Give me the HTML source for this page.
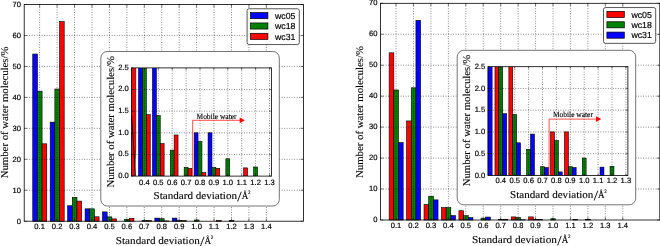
<!DOCTYPE html>
<html><head><meta charset="utf-8"><title>Water mobility histograms</title>
<style>html,body{margin:0;padding:0;background:#fff}svg{display:block}text{text-rendering:geometricPrecision}</style></head>
<body>
<svg width="660" height="246" viewBox="0 0 660 246">
<rect width="660" height="246" fill="#fff"/>
<g opacity="0.999">
<g transform="translate(0 0)">
<rect x="24.2" y="4.5" width="279.2" height="216.7" fill="#fff"/>
<g stroke="#000" stroke-width="0.6">
<rect x="32.75" y="54.03" width="4.67" height="167.17" fill="#0000ff"/>
<rect x="37.42" y="91.18" width="4.67" height="130.02" fill="#008000"/>
<rect x="42.09" y="143.81" width="4.67" height="77.39" fill="#ff0000"/>
<rect x="50.19" y="122.14" width="4.67" height="99.06" fill="#0000ff"/>
<rect x="54.86" y="89.01" width="4.67" height="132.19" fill="#008000"/>
<rect x="59.53" y="21.53" width="4.67" height="199.67" fill="#ff0000"/>
<rect x="67.63" y="205.72" width="4.67" height="15.48" fill="#0000ff"/>
<rect x="72.3" y="197.36" width="4.67" height="23.84" fill="#008000"/>
<rect x="76.97" y="201.08" width="4.67" height="20.12" fill="#ff0000"/>
<rect x="85.07" y="208.82" width="4.67" height="12.38" fill="#0000ff"/>
<rect x="89.74" y="208.82" width="4.67" height="12.38" fill="#008000"/>
<rect x="94.41" y="216.8" width="4.67" height="4.4" fill="#ff0000"/>
<rect x="102.51" y="211.91" width="4.67" height="9.29" fill="#0000ff"/>
<rect x="107.18" y="216.87" width="4.67" height="4.33" fill="#008000"/>
<rect x="111.85" y="218.88" width="4.67" height="2.32" fill="#ff0000"/>
<rect x="124.62" y="219.34" width="4.67" height="1.86" fill="#008000"/>
<rect x="129.29" y="218.26" width="4.67" height="2.94" fill="#ff0000"/>
<rect x="142.06" y="220.58" width="4.67" height="0.62" fill="#008000"/>
<rect x="146.73" y="220.64" width="4.67" height="0.56" fill="#ff0000"/>
<rect x="154.83" y="218.1" width="4.67" height="3.1" fill="#0000ff"/>
<rect x="159.5" y="218.72" width="4.67" height="2.48" fill="#008000"/>
<rect x="164.17" y="220.95" width="4.67" height="0.25" fill="#ff0000"/>
<rect x="172.27" y="218.1" width="4.67" height="3.1" fill="#0000ff"/>
<rect x="176.94" y="220.58" width="4.67" height="0.62" fill="#008000"/>
<rect x="181.61" y="220.64" width="4.67" height="0.56" fill="#ff0000"/>
<rect x="194.38" y="219.96" width="4.67" height="1.24" fill="#008000"/>
<rect x="216.49" y="220.61" width="4.67" height="0.59" fill="#ff0000"/>
<rect x="229.26" y="220.55" width="4.67" height="0.65" fill="#008000"/>
</g>
<g stroke="#000" stroke-width="0.5" stroke-dasharray="0.9 1.6" fill="none">
<path d="M39.65 4.5V221.2"/>
<path d="M57.09 4.5V221.2"/>
<path d="M74.53 4.5V221.2"/>
<path d="M91.97 4.5V221.2"/>
<path d="M109.41 4.5V221.2"/>
<path d="M126.85 4.5V221.2"/>
<path d="M144.29 4.5V221.2"/>
<path d="M161.73 4.5V221.2"/>
<path d="M179.17 4.5V221.2"/>
<path d="M196.61 4.5V221.2"/>
<path d="M214.05 4.5V221.2"/>
<path d="M231.49 4.5V221.2"/>
<path d="M248.93 4.5V221.2"/>
<path d="M266.37 4.5V221.2"/>
<path d="M24.2 190.24H303.4"/>
<path d="M24.2 159.29H303.4"/>
<path d="M24.2 128.33H303.4"/>
<path d="M24.2 97.37H303.4"/>
<path d="M24.2 66.41H303.4"/>
<path d="M24.2 35.46H303.4"/>
</g>
<g stroke="#000" stroke-width="0.5" fill="none">
<path d="M39.65 221.2v-2.8M39.65 4.5v2.8"/>
<path d="M57.09 221.2v-2.8M57.09 4.5v2.8"/>
<path d="M74.53 221.2v-2.8M74.53 4.5v2.8"/>
<path d="M91.97 221.2v-2.8M91.97 4.5v2.8"/>
<path d="M109.41 221.2v-2.8M109.41 4.5v2.8"/>
<path d="M126.85 221.2v-2.8M126.85 4.5v2.8"/>
<path d="M144.29 221.2v-2.8M144.29 4.5v2.8"/>
<path d="M161.73 221.2v-2.8M161.73 4.5v2.8"/>
<path d="M179.17 221.2v-2.8M179.17 4.5v2.8"/>
<path d="M196.61 221.2v-2.8M196.61 4.5v2.8"/>
<path d="M214.05 221.2v-2.8M214.05 4.5v2.8"/>
<path d="M231.49 221.2v-2.8M231.49 4.5v2.8"/>
<path d="M248.93 221.2v-2.8M248.93 4.5v2.8"/>
<path d="M266.37 221.2v-2.8M266.37 4.5v2.8"/>
<path d="M24.2 221.2h2.8M303.4 221.2h-2.8"/>
<path d="M24.2 190.24h2.8M303.4 190.24h-2.8"/>
<path d="M24.2 159.29h2.8M303.4 159.29h-2.8"/>
<path d="M24.2 128.33h2.8M303.4 128.33h-2.8"/>
<path d="M24.2 97.37h2.8M303.4 97.37h-2.8"/>
<path d="M24.2 66.41h2.8M303.4 66.41h-2.8"/>
<path d="M24.2 35.46h2.8M303.4 35.46h-2.8"/>
<path d="M24.2 4.5h2.8M303.4 4.5h-2.8"/>
</g>
<rect x="24.2" y="4.5" width="279.2" height="216.7" fill="none" stroke="#000" stroke-width="0.8"/>
<g font-family='"Liberation Sans", sans-serif' font-size="7.6" fill="#000" stroke="#000" stroke-width="0.18">
<text x="39.65" y="229.3" text-anchor="middle">0.1</text>
<text x="57.09" y="229.3" text-anchor="middle">0.2</text>
<text x="74.53" y="229.3" text-anchor="middle">0.3</text>
<text x="91.97" y="229.3" text-anchor="middle">0.4</text>
<text x="109.41" y="229.3" text-anchor="middle">0.5</text>
<text x="126.85" y="229.3" text-anchor="middle">0.6</text>
<text x="144.29" y="229.3" text-anchor="middle">0.7</text>
<text x="161.73" y="229.3" text-anchor="middle">0.8</text>
<text x="179.17" y="229.3" text-anchor="middle">0.9</text>
<text x="196.61" y="229.3" text-anchor="middle">1.0</text>
<text x="214.05" y="229.3" text-anchor="middle">1.1</text>
<text x="231.49" y="229.3" text-anchor="middle">1.2</text>
<text x="248.93" y="229.3" text-anchor="middle">1.3</text>
<text x="266.37" y="229.3" text-anchor="middle">1.4</text>
<text x="21" y="223.5" text-anchor="end">0</text>
<text x="21" y="192.54" text-anchor="end">10</text>
<text x="21" y="161.59" text-anchor="end">20</text>
<text x="21" y="130.63" text-anchor="end">30</text>
<text x="21" y="99.67" text-anchor="end">40</text>
<text x="21" y="68.71" text-anchor="end">50</text>
<text x="21" y="37.76" text-anchor="end">60</text>
<text x="21" y="6.8" text-anchor="end">70</text>
</g>
<g font-family='"Liberation Serif", serif' font-size="10.4" fill="#000" stroke="#000" stroke-width="0.12">
<text x="115.8" y="243.6" textLength="84" lengthAdjust="spacingAndGlyphs">Standard deviation</text><text x="200.1" y="245.7" font-size="14" stroke-width="0.1" textLength="4.4" lengthAdjust="spacingAndGlyphs">/</text><text x="204.5" y="243.6" textLength="6.5" lengthAdjust="spacingAndGlyphs">Å</text><text x="210.7" y="238.9" font-size="5" stroke-width="0.15">2</text>
<text transform="translate(8.2 178.3) rotate(-90)" textLength="131.8" lengthAdjust="spacingAndGlyphs">Number of water molecules/%</text>
</g>
<rect x="247.1" y="8.75" width="52.2" height="35.8" rx="2" fill="#fff" stroke="#444" stroke-width="0.9"/>
<g stroke="#000" stroke-width="0.7">
<rect x="250.5" y="12.6" width="17.4" height="6.1" fill="#0000ff"/>
<rect x="250.5" y="22.95" width="17.4" height="6.1" fill="#008000"/>
<rect x="250.5" y="33.3" width="17.4" height="6.1" fill="#ff0000"/>
</g>
<g font-family='"Liberation Sans", sans-serif' font-size="8.75" fill="#000" stroke="#000" stroke-width="0.18">
<text x="275" y="18.9">wc05</text>
<text x="275" y="29.25">wc18</text>
<text x="275" y="39.6">wc31</text>
</g>
<rect x="100.8" y="51.5" width="178.5" height="154.5" rx="6.5" fill="#fff" stroke="#505050" stroke-width="0.8"/>
<clipPath id="ca"><rect x="131.5" y="67.9" width="140" height="108.2"/></clipPath>
<g clip-path="url(#ca)">
<g stroke="#000" stroke-width="0.6">
<rect x="96.86" y="-2161.02" width="3.89" height="2337.12" fill="#0000ff"/>
<rect x="100.75" y="-1641.66" width="3.89" height="1817.76" fill="#008000"/>
<rect x="104.65" y="-905.9" width="3.89" height="1082" fill="#ff0000"/>
<rect x="110.76" y="-1208.86" width="3.89" height="1384.96" fill="#0000ff"/>
<rect x="114.65" y="-1671.96" width="3.89" height="1848.06" fill="#008000"/>
<rect x="118.55" y="-2615.46" width="3.89" height="2791.56" fill="#ff0000"/>
<path d="M131.5 66.9H135.7V150L134.6 176.1H131.5z" fill="#ff0000"/>
<path d="M131.6 116L135.6 176.1" fill="none" stroke-width="0.8"/>
<rect x="138.56" y="2.98" width="3.89" height="173.12" fill="#0000ff"/>
<rect x="142.45" y="2.98" width="3.89" height="173.12" fill="#008000"/>
<rect x="146.35" y="114.64" width="3.89" height="61.46" fill="#ff0000"/>
<rect x="152.46" y="46.26" width="3.89" height="129.84" fill="#0000ff"/>
<rect x="156.35" y="115.51" width="3.89" height="60.59" fill="#008000"/>
<rect x="160.25" y="143.64" width="3.89" height="32.46" fill="#ff0000"/>
<rect x="170.25" y="150.13" width="3.89" height="25.97" fill="#008000"/>
<rect x="174.15" y="134.98" width="3.89" height="41.12" fill="#ff0000"/>
<rect x="184.15" y="167.44" width="3.89" height="8.66" fill="#008000"/>
<rect x="188.05" y="168.31" width="3.89" height="7.79" fill="#ff0000"/>
<rect x="194.16" y="132.82" width="3.89" height="43.28" fill="#0000ff"/>
<rect x="198.05" y="141.48" width="3.89" height="34.62" fill="#008000"/>
<rect x="201.95" y="172.64" width="3.89" height="3.46" fill="#ff0000"/>
<rect x="208.06" y="132.82" width="3.89" height="43.28" fill="#0000ff"/>
<rect x="211.95" y="167.44" width="3.89" height="8.66" fill="#008000"/>
<rect x="215.85" y="168.31" width="3.89" height="7.79" fill="#ff0000"/>
<rect x="225.85" y="158.79" width="3.89" height="17.31" fill="#008000"/>
<rect x="243.65" y="167.88" width="3.89" height="8.22" fill="#ff0000"/>
<rect x="253.65" y="167.01" width="3.89" height="9.09" fill="#008000"/>
</g>
</g>
<g stroke="#000" stroke-width="0.5" stroke-dasharray="0.9 1.6" fill="none">
<path d="M144.4 67.9V176.1"/>
<path d="M158.3 67.9V176.1"/>
<path d="M172.2 67.9V176.1"/>
<path d="M186.1 67.9V176.1"/>
<path d="M200 67.9V176.1"/>
<path d="M213.9 67.9V176.1"/>
<path d="M227.8 67.9V176.1"/>
<path d="M241.7 67.9V176.1"/>
<path d="M255.6 67.9V176.1"/>
<path d="M269.5 67.9V176.1"/>
<path d="M131.5 154.46H271.5"/>
<path d="M131.5 132.82H271.5"/>
<path d="M131.5 111.18H271.5"/>
<path d="M131.5 89.54H271.5"/>
</g>
<g stroke="#000" stroke-width="0.5" fill="none">
<path d="M144.4 176.1v-2M144.4 67.9v2"/>
<path d="M158.3 176.1v-2M158.3 67.9v2"/>
<path d="M172.2 176.1v-2M172.2 67.9v2"/>
<path d="M186.1 176.1v-2M186.1 67.9v2"/>
<path d="M200 176.1v-2M200 67.9v2"/>
<path d="M213.9 176.1v-2M213.9 67.9v2"/>
<path d="M227.8 176.1v-2M227.8 67.9v2"/>
<path d="M241.7 176.1v-2M241.7 67.9v2"/>
<path d="M255.6 176.1v-2M255.6 67.9v2"/>
<path d="M269.5 176.1v-2M269.5 67.9v2"/>
<path d="M131.5 176.1h2M271.5 176.1h-2"/>
<path d="M131.5 154.46h2M271.5 154.46h-2"/>
<path d="M131.5 132.82h2M271.5 132.82h-2"/>
<path d="M131.5 111.18h2M271.5 111.18h-2"/>
<path d="M131.5 89.54h2M271.5 89.54h-2"/>
<path d="M131.5 67.9h2M271.5 67.9h-2"/>
</g>
<rect x="131.5" y="67.9" width="140" height="108.2" fill="none" stroke="#000" stroke-width="0.8"/>
<path d="M192.7 176.1V120.3H241" stroke="#f00" stroke-width="0.7" fill="none"/>
<path d="M244.9 120.3l-5.2 -2.9v5.8z" fill="#f00"/>
<text x="196.5" y="118.9" font-family='"Liberation Serif", serif' font-size="8" stroke="#000" stroke-width="0.12" textLength="40" lengthAdjust="spacingAndGlyphs">Mobile water</text>
<g font-family='"Liberation Sans", sans-serif' font-size="7.6" fill="#000" stroke="#000" stroke-width="0.18">
<text x="144.4" y="184.6" text-anchor="middle">0.4</text>
<text x="158.3" y="184.6" text-anchor="middle">0.5</text>
<text x="172.2" y="184.6" text-anchor="middle">0.6</text>
<text x="186.1" y="184.6" text-anchor="middle">0.7</text>
<text x="200" y="184.6" text-anchor="middle">0.8</text>
<text x="213.9" y="184.6" text-anchor="middle">0.9</text>
<text x="227.8" y="184.6" text-anchor="middle">1.0</text>
<text x="241.7" y="184.6" text-anchor="middle">1.1</text>
<text x="255.6" y="184.6" text-anchor="middle">1.2</text>
<text x="269.5" y="184.6" text-anchor="middle">1.3</text>
<text x="128.8" y="177.9" text-anchor="end">0.0</text>
<text x="128.8" y="156.26" text-anchor="end">0.5</text>
<text x="128.8" y="134.62" text-anchor="end">1.0</text>
<text x="128.8" y="112.98" text-anchor="end">1.5</text>
<text x="128.8" y="91.34" text-anchor="end">2.0</text>
<text x="128.8" y="69.7" text-anchor="end">2.5</text>
</g>
<g font-family='"Liberation Serif", serif' font-size="10.4" fill="#000" stroke="#000" stroke-width="0.12">
<text x="153.6" y="198.8" textLength="83.4" lengthAdjust="spacingAndGlyphs">Standard deviation</text><text x="237.3" y="200.9" font-size="14" stroke-width="0.1" textLength="4.4" lengthAdjust="spacingAndGlyphs">/</text><text x="241.7" y="198.8" textLength="6.5" lengthAdjust="spacingAndGlyphs">Å</text><text x="247.9" y="194.1" font-size="5" stroke-width="0.15">2</text>
<text transform="translate(113.7 187.5) rotate(-90)" textLength="131.5" lengthAdjust="spacingAndGlyphs">Number of water molecules/%</text>
</g>
</g>
<g transform="translate(356.4 -1.2)">
<rect x="24.2" y="4.5" width="279.2" height="216.7" fill="#fff"/>
<g stroke="#000" stroke-width="0.6">
<rect x="32.75" y="54.03" width="4.67" height="167.17" fill="#ff0000"/>
<rect x="37.42" y="91.18" width="4.67" height="130.02" fill="#008000"/>
<rect x="42.09" y="143.81" width="4.67" height="77.39" fill="#0000ff"/>
<rect x="50.19" y="122.14" width="4.67" height="99.06" fill="#ff0000"/>
<rect x="54.86" y="89.01" width="4.67" height="132.19" fill="#008000"/>
<rect x="59.53" y="21.53" width="4.67" height="199.67" fill="#0000ff"/>
<rect x="67.63" y="205.72" width="4.67" height="15.48" fill="#ff0000"/>
<rect x="72.3" y="197.36" width="4.67" height="23.84" fill="#008000"/>
<rect x="76.97" y="201.08" width="4.67" height="20.12" fill="#0000ff"/>
<rect x="85.07" y="208.82" width="4.67" height="12.38" fill="#ff0000"/>
<rect x="89.74" y="208.82" width="4.67" height="12.38" fill="#008000"/>
<rect x="94.41" y="216.8" width="4.67" height="4.4" fill="#0000ff"/>
<rect x="102.51" y="211.91" width="4.67" height="9.29" fill="#ff0000"/>
<rect x="107.18" y="216.87" width="4.67" height="4.33" fill="#008000"/>
<rect x="111.85" y="218.88" width="4.67" height="2.32" fill="#0000ff"/>
<rect x="124.62" y="219.34" width="4.67" height="1.86" fill="#008000"/>
<rect x="129.29" y="218.26" width="4.67" height="2.94" fill="#0000ff"/>
<rect x="142.06" y="220.58" width="4.67" height="0.62" fill="#008000"/>
<rect x="146.73" y="220.64" width="4.67" height="0.56" fill="#0000ff"/>
<rect x="154.83" y="218.1" width="4.67" height="3.1" fill="#ff0000"/>
<rect x="159.5" y="218.72" width="4.67" height="2.48" fill="#008000"/>
<rect x="164.17" y="220.95" width="4.67" height="0.25" fill="#0000ff"/>
<rect x="172.27" y="218.1" width="4.67" height="3.1" fill="#ff0000"/>
<rect x="176.94" y="220.58" width="4.67" height="0.62" fill="#008000"/>
<rect x="181.61" y="220.64" width="4.67" height="0.56" fill="#0000ff"/>
<rect x="194.38" y="219.96" width="4.67" height="1.24" fill="#008000"/>
<rect x="216.49" y="220.61" width="4.67" height="0.59" fill="#0000ff"/>
<rect x="229.26" y="220.55" width="4.67" height="0.65" fill="#008000"/>
</g>
<g stroke="#000" stroke-width="0.5" stroke-dasharray="0.9 1.6" fill="none">
<path d="M39.65 4.5V221.2"/>
<path d="M57.09 4.5V221.2"/>
<path d="M74.53 4.5V221.2"/>
<path d="M91.97 4.5V221.2"/>
<path d="M109.41 4.5V221.2"/>
<path d="M126.85 4.5V221.2"/>
<path d="M144.29 4.5V221.2"/>
<path d="M161.73 4.5V221.2"/>
<path d="M179.17 4.5V221.2"/>
<path d="M196.61 4.5V221.2"/>
<path d="M214.05 4.5V221.2"/>
<path d="M231.49 4.5V221.2"/>
<path d="M248.93 4.5V221.2"/>
<path d="M266.37 4.5V221.2"/>
<path d="M24.2 190.24H303.4"/>
<path d="M24.2 159.29H303.4"/>
<path d="M24.2 128.33H303.4"/>
<path d="M24.2 97.37H303.4"/>
<path d="M24.2 66.41H303.4"/>
<path d="M24.2 35.46H303.4"/>
</g>
<g stroke="#000" stroke-width="0.5" fill="none">
<path d="M39.65 221.2v-2.8M39.65 4.5v2.8"/>
<path d="M57.09 221.2v-2.8M57.09 4.5v2.8"/>
<path d="M74.53 221.2v-2.8M74.53 4.5v2.8"/>
<path d="M91.97 221.2v-2.8M91.97 4.5v2.8"/>
<path d="M109.41 221.2v-2.8M109.41 4.5v2.8"/>
<path d="M126.85 221.2v-2.8M126.85 4.5v2.8"/>
<path d="M144.29 221.2v-2.8M144.29 4.5v2.8"/>
<path d="M161.73 221.2v-2.8M161.73 4.5v2.8"/>
<path d="M179.17 221.2v-2.8M179.17 4.5v2.8"/>
<path d="M196.61 221.2v-2.8M196.61 4.5v2.8"/>
<path d="M214.05 221.2v-2.8M214.05 4.5v2.8"/>
<path d="M231.49 221.2v-2.8M231.49 4.5v2.8"/>
<path d="M248.93 221.2v-2.8M248.93 4.5v2.8"/>
<path d="M266.37 221.2v-2.8M266.37 4.5v2.8"/>
<path d="M24.2 221.2h2.8M303.4 221.2h-2.8"/>
<path d="M24.2 190.24h2.8M303.4 190.24h-2.8"/>
<path d="M24.2 159.29h2.8M303.4 159.29h-2.8"/>
<path d="M24.2 128.33h2.8M303.4 128.33h-2.8"/>
<path d="M24.2 97.37h2.8M303.4 97.37h-2.8"/>
<path d="M24.2 66.41h2.8M303.4 66.41h-2.8"/>
<path d="M24.2 35.46h2.8M303.4 35.46h-2.8"/>
<path d="M24.2 4.5h2.8M303.4 4.5h-2.8"/>
</g>
<rect x="24.2" y="4.5" width="279.2" height="216.7" fill="none" stroke="#000" stroke-width="0.8"/>
<g font-family='"Liberation Sans", sans-serif' font-size="7.6" fill="#000" stroke="#000" stroke-width="0.18">
<text x="39.65" y="229.3" text-anchor="middle">0.1</text>
<text x="57.09" y="229.3" text-anchor="middle">0.2</text>
<text x="74.53" y="229.3" text-anchor="middle">0.3</text>
<text x="91.97" y="229.3" text-anchor="middle">0.4</text>
<text x="109.41" y="229.3" text-anchor="middle">0.5</text>
<text x="126.85" y="229.3" text-anchor="middle">0.6</text>
<text x="144.29" y="229.3" text-anchor="middle">0.7</text>
<text x="161.73" y="229.3" text-anchor="middle">0.8</text>
<text x="179.17" y="229.3" text-anchor="middle">0.9</text>
<text x="196.61" y="229.3" text-anchor="middle">1.0</text>
<text x="214.05" y="229.3" text-anchor="middle">1.1</text>
<text x="231.49" y="229.3" text-anchor="middle">1.2</text>
<text x="248.93" y="229.3" text-anchor="middle">1.3</text>
<text x="266.37" y="229.3" text-anchor="middle">1.4</text>
<text x="21" y="223" text-anchor="end">0</text>
<text x="21" y="192.04" text-anchor="end">10</text>
<text x="21" y="161.09" text-anchor="end">20</text>
<text x="21" y="130.13" text-anchor="end">30</text>
<text x="21" y="99.17" text-anchor="end">40</text>
<text x="21" y="68.21" text-anchor="end">50</text>
<text x="21" y="37.26" text-anchor="end">60</text>
<text x="21" y="6.3" text-anchor="end">70</text>
</g>
<g font-family='"Liberation Serif", serif' font-size="10.4" fill="#000" stroke="#000" stroke-width="0.12">
<text x="115.6" y="244.3" textLength="85" lengthAdjust="spacingAndGlyphs">Standard deviation</text><text x="200.9" y="246.4" font-size="14" stroke-width="0.1" textLength="4.4" lengthAdjust="spacingAndGlyphs">/</text><text x="205.3" y="244.3" textLength="6.5" lengthAdjust="spacingAndGlyphs">Å</text><text x="211.5" y="239.6" font-size="5" stroke-width="0.15">2</text>
<text transform="translate(6.9 179.1) rotate(-90)" textLength="131.8" lengthAdjust="spacingAndGlyphs">Number of water molecules/%</text>
</g>
<rect x="247.1" y="8.75" width="52.2" height="35.8" rx="2" fill="#fff" stroke="#444" stroke-width="0.9"/>
<g stroke="#000" stroke-width="0.7">
<rect x="250.5" y="12.6" width="17.4" height="6.1" fill="#ff0000"/>
<rect x="250.5" y="22.95" width="17.4" height="6.1" fill="#008000"/>
<rect x="250.5" y="33.3" width="17.4" height="6.1" fill="#0000ff"/>
</g>
<g font-family='"Liberation Sans", sans-serif' font-size="8.75" fill="#000" stroke="#000" stroke-width="0.18">
<text x="275" y="18.9">wc05</text>
<text x="275" y="29.25">wc18</text>
<text x="275" y="39.6">wc31</text>
</g>
<rect x="100.8" y="51.5" width="178.5" height="154.5" rx="6.5" fill="#fff" stroke="#505050" stroke-width="0.8"/>
<clipPath id="cb"><rect x="131.5" y="67.9" width="140" height="108.7"/></clipPath>
<g clip-path="url(#cb)">
<g stroke="#000" stroke-width="0.6">
<rect x="96.86" y="-2171.32" width="3.89" height="2347.92" fill="#ff0000"/>
<rect x="100.75" y="-1649.56" width="3.89" height="1826.16" fill="#008000"/>
<rect x="104.65" y="-910.4" width="3.89" height="1087" fill="#0000ff"/>
<rect x="110.76" y="-1214.76" width="3.89" height="1391.36" fill="#ff0000"/>
<rect x="114.65" y="-1680" width="3.89" height="1856.6" fill="#008000"/>
<rect x="118.55" y="-2627.86" width="3.89" height="2804.46" fill="#0000ff"/>
<path d="M131.5 66.9H135.75V176.6H131.5z" fill="#0000ff"/>
<rect x="138.56" y="2.68" width="3.89" height="173.92" fill="#ff0000"/>
<rect x="142.45" y="2.68" width="3.89" height="173.92" fill="#008000"/>
<rect x="146.35" y="114.86" width="3.89" height="61.74" fill="#0000ff"/>
<rect x="152.46" y="46.16" width="3.89" height="130.44" fill="#ff0000"/>
<rect x="156.35" y="115.73" width="3.89" height="60.87" fill="#008000"/>
<rect x="160.25" y="143.99" width="3.89" height="32.61" fill="#0000ff"/>
<rect x="170.25" y="150.51" width="3.89" height="26.09" fill="#008000"/>
<rect x="174.15" y="135.29" width="3.89" height="41.31" fill="#0000ff"/>
<rect x="184.15" y="167.9" width="3.89" height="8.7" fill="#008000"/>
<rect x="188.05" y="168.77" width="3.89" height="7.83" fill="#0000ff"/>
<rect x="194.16" y="133.12" width="3.89" height="43.48" fill="#ff0000"/>
<rect x="198.05" y="141.82" width="3.89" height="34.78" fill="#008000"/>
<rect x="201.95" y="173.12" width="3.89" height="3.48" fill="#0000ff"/>
<rect x="208.06" y="133.12" width="3.89" height="43.48" fill="#ff0000"/>
<rect x="211.95" y="167.9" width="3.89" height="8.7" fill="#008000"/>
<rect x="215.85" y="168.77" width="3.89" height="7.83" fill="#0000ff"/>
<rect x="225.85" y="159.21" width="3.89" height="17.39" fill="#008000"/>
<rect x="243.65" y="168.34" width="3.89" height="8.26" fill="#0000ff"/>
<rect x="253.65" y="167.47" width="3.89" height="9.13" fill="#008000"/>
</g>
</g>
<g stroke="#000" stroke-width="0.5" stroke-dasharray="0.9 1.6" fill="none">
<path d="M144.4 67.9V176.6"/>
<path d="M158.3 67.9V176.6"/>
<path d="M172.2 67.9V176.6"/>
<path d="M186.1 67.9V176.6"/>
<path d="M200 67.9V176.6"/>
<path d="M213.9 67.9V176.6"/>
<path d="M227.8 67.9V176.6"/>
<path d="M241.7 67.9V176.6"/>
<path d="M255.6 67.9V176.6"/>
<path d="M269.5 67.9V176.6"/>
<path d="M131.5 154.86H271.5"/>
<path d="M131.5 133.12H271.5"/>
<path d="M131.5 111.38H271.5"/>
<path d="M131.5 89.64H271.5"/>
</g>
<g stroke="#000" stroke-width="0.5" fill="none">
<path d="M144.4 176.6v-2M144.4 67.9v2"/>
<path d="M158.3 176.6v-2M158.3 67.9v2"/>
<path d="M172.2 176.6v-2M172.2 67.9v2"/>
<path d="M186.1 176.6v-2M186.1 67.9v2"/>
<path d="M200 176.6v-2M200 67.9v2"/>
<path d="M213.9 176.6v-2M213.9 67.9v2"/>
<path d="M227.8 176.6v-2M227.8 67.9v2"/>
<path d="M241.7 176.6v-2M241.7 67.9v2"/>
<path d="M255.6 176.6v-2M255.6 67.9v2"/>
<path d="M269.5 176.6v-2M269.5 67.9v2"/>
<path d="M131.5 176.6h2M271.5 176.6h-2"/>
<path d="M131.5 154.86h2M271.5 154.86h-2"/>
<path d="M131.5 133.12h2M271.5 133.12h-2"/>
<path d="M131.5 111.38h2M271.5 111.38h-2"/>
<path d="M131.5 89.64h2M271.5 89.64h-2"/>
<path d="M131.5 67.9h2M271.5 67.9h-2"/>
</g>
<rect x="131.5" y="67.9" width="140" height="108.7" fill="none" stroke="#000" stroke-width="0.8"/>
<path d="M192.7 176.6V120.3H241" stroke="#f00" stroke-width="0.7" fill="none"/>
<path d="M244.9 120.3l-5.2 -2.9v5.8z" fill="#f00"/>
<text x="196.5" y="118.4" font-family='"Liberation Serif", serif' font-size="8" stroke="#000" stroke-width="0.12" textLength="40" lengthAdjust="spacingAndGlyphs">Mobile water</text>
<g font-family='"Liberation Sans", sans-serif' font-size="7.6" fill="#000" stroke="#000" stroke-width="0.18">
<text x="144.4" y="184.6" text-anchor="middle">0.4</text>
<text x="158.3" y="184.6" text-anchor="middle">0.5</text>
<text x="172.2" y="184.6" text-anchor="middle">0.6</text>
<text x="186.1" y="184.6" text-anchor="middle">0.7</text>
<text x="200" y="184.6" text-anchor="middle">0.8</text>
<text x="213.9" y="184.6" text-anchor="middle">0.9</text>
<text x="227.8" y="184.6" text-anchor="middle">1.0</text>
<text x="241.7" y="184.6" text-anchor="middle">1.1</text>
<text x="255.6" y="184.6" text-anchor="middle">1.2</text>
<text x="269.5" y="184.6" text-anchor="middle">1.3</text>
<text x="128.8" y="178.9" text-anchor="end">0.0</text>
<text x="128.8" y="157.16" text-anchor="end">0.5</text>
<text x="128.8" y="135.42" text-anchor="end">1.0</text>
<text x="128.8" y="113.68" text-anchor="end">1.5</text>
<text x="128.8" y="91.94" text-anchor="end">2.0</text>
<text x="128.8" y="70.2" text-anchor="end">2.5</text>
</g>
<g font-family='"Liberation Serif", serif' font-size="10.4" fill="#000" stroke="#000" stroke-width="0.12">
<text x="153.6" y="199.4" textLength="83.4" lengthAdjust="spacingAndGlyphs">Standard deviation</text><text x="237.3" y="201.5" font-size="14" stroke-width="0.1" textLength="4.4" lengthAdjust="spacingAndGlyphs">/</text><text x="241.7" y="199.4" textLength="6.5" lengthAdjust="spacingAndGlyphs">Å</text><text x="247.9" y="194.7" font-size="5" stroke-width="0.15">2</text>
<text transform="translate(113.7 187.5) rotate(-90)" textLength="131.5" lengthAdjust="spacingAndGlyphs">Number of water molecules/%</text>
</g>
</g>
</g>
</svg>
</body></html>
